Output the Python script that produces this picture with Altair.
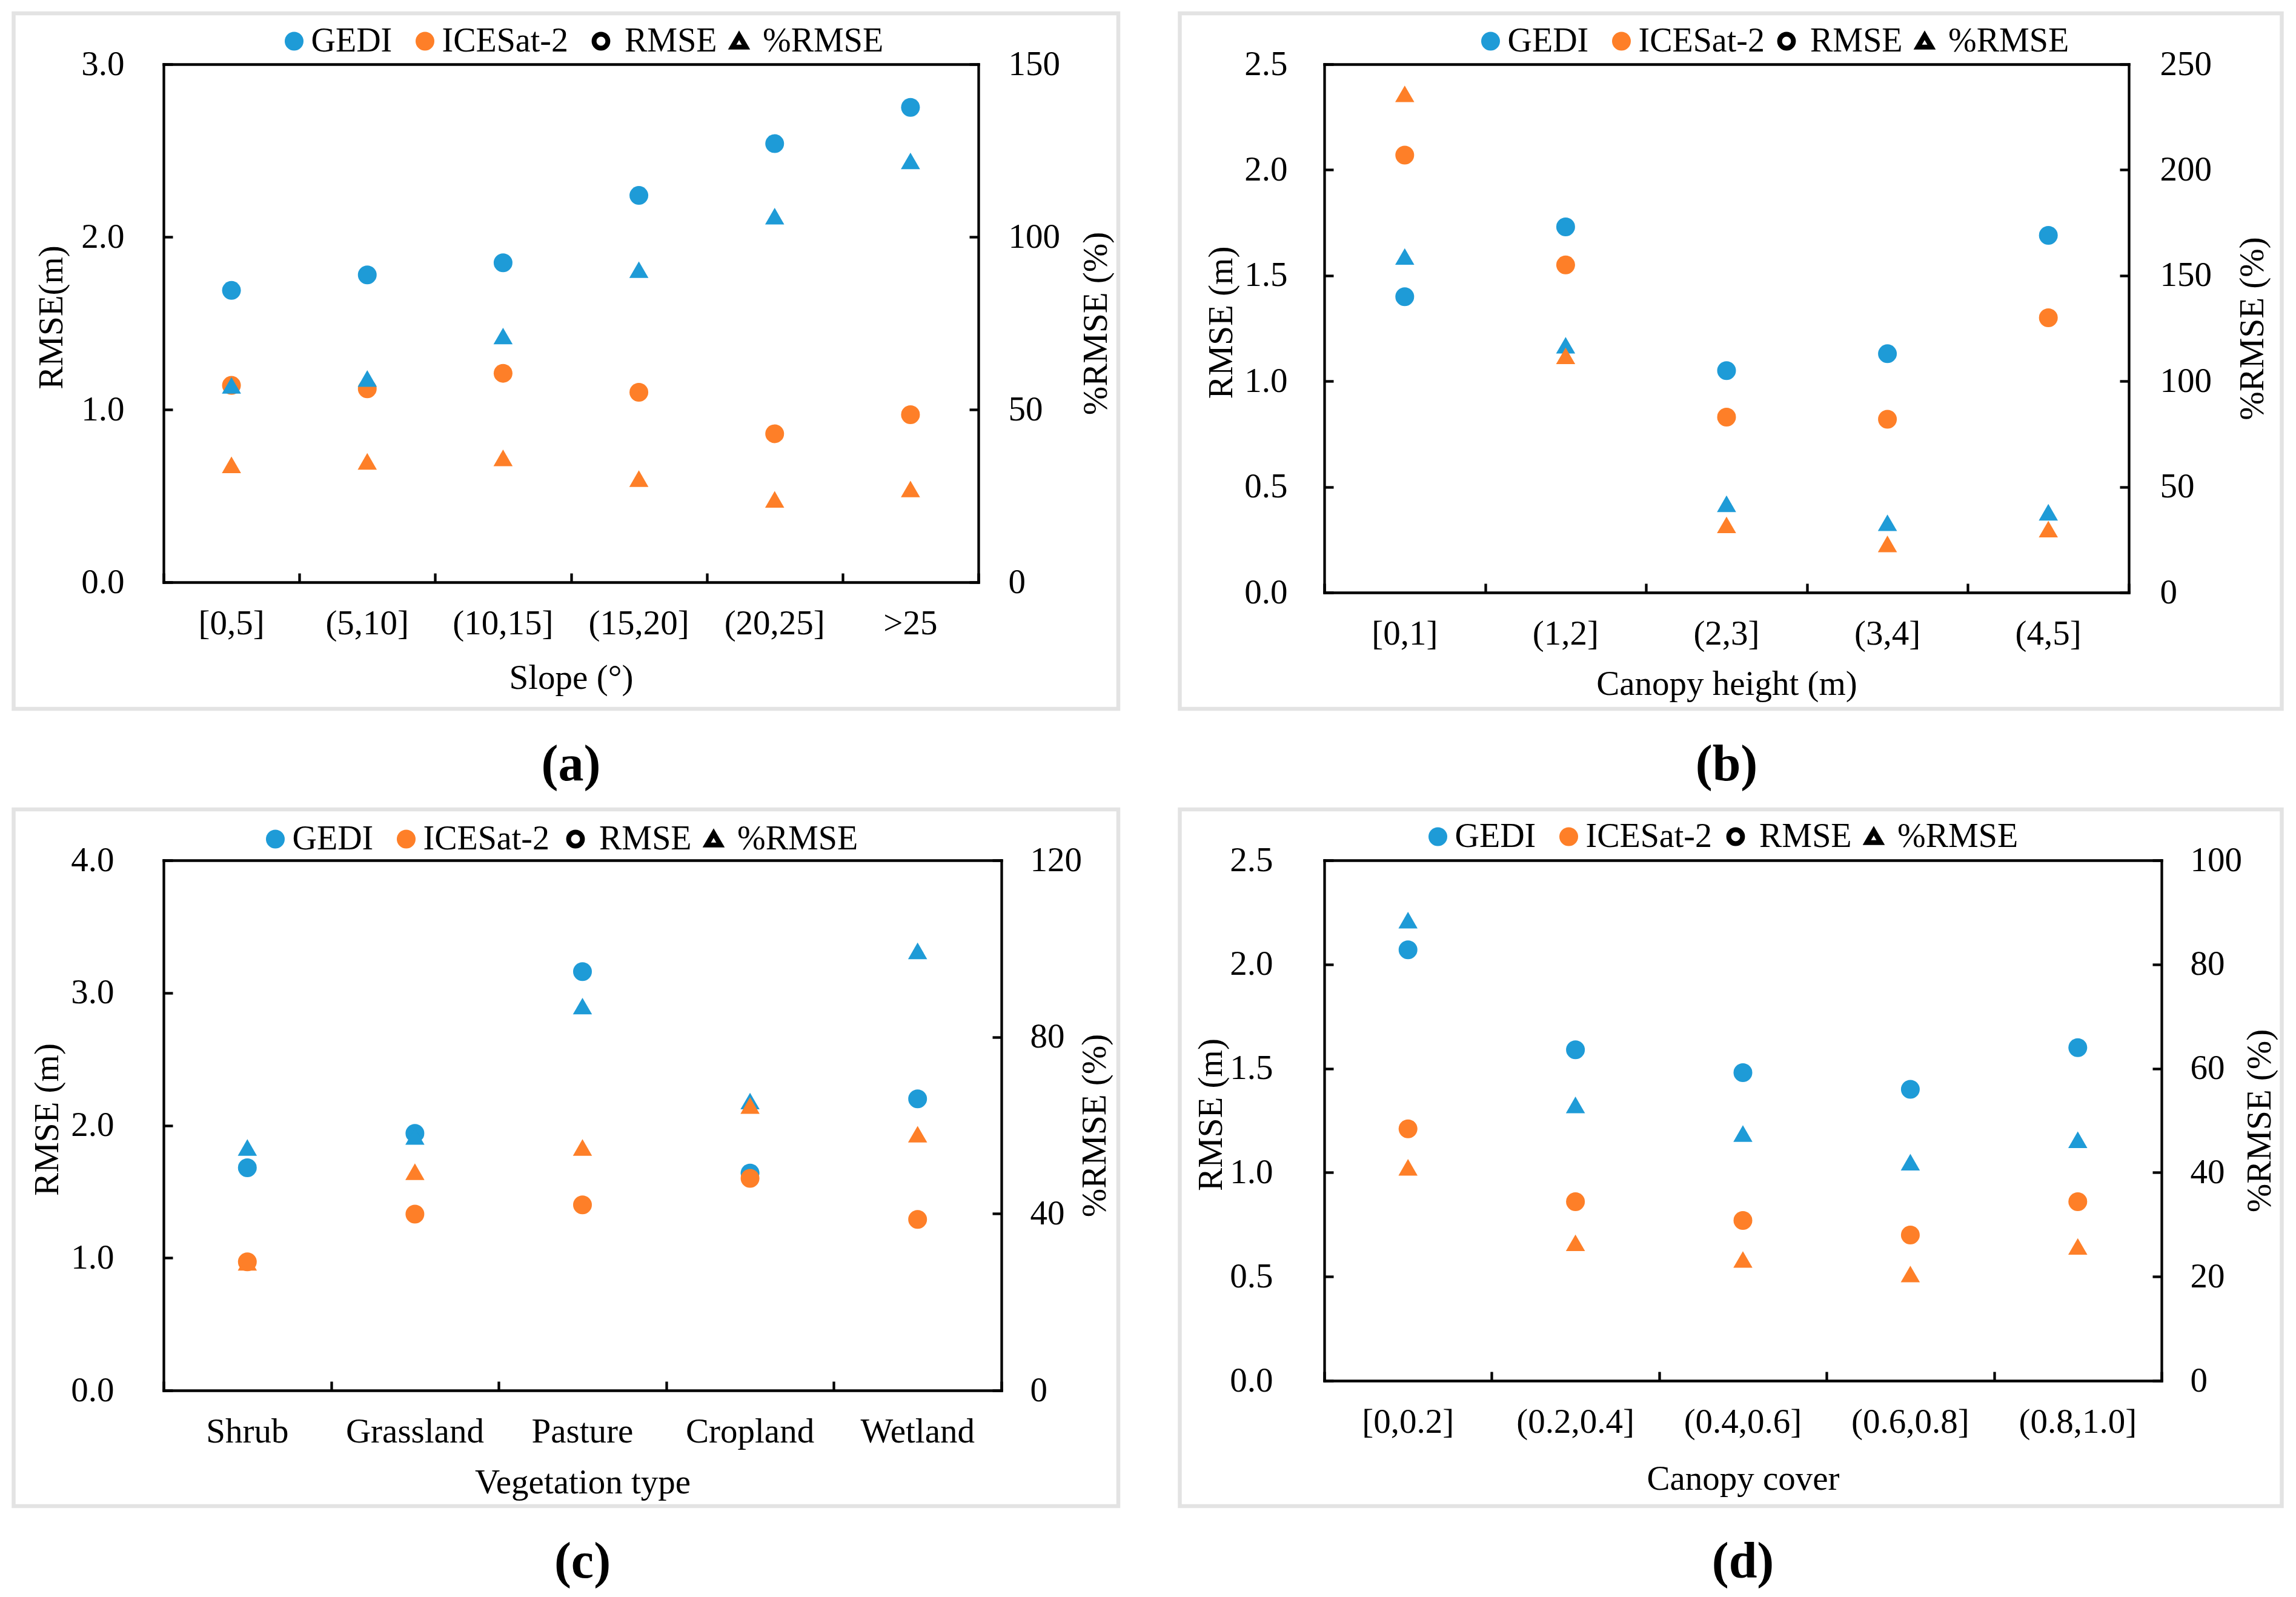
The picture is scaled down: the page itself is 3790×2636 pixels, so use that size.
import altair as alt
import pandas as pd

FONT = "Liberation Serif"
BLUE = "#1E9BD7"
ORANGE = "#FE7F28"
FRAME = "#E3E3E3"
FS = 57
LFS = 56
LW = 4.3

# ---------------- data ----------------
# (a) slope
a_cats = ["[0,5]", "(5,10]", "(10,15]", "(15,20]", "(20,25]", ">25"]
a_gedi_rmse = [1.69, 1.78, 1.85, 2.24, 2.54, 2.75]
a_ice_rmse = [1.14, 1.12, 1.21, 1.10, 0.86, 0.97]
a_gedi_prmse = [57, 59, 71.3, 90.5, 106, 122]
a_ice_prmse = [34, 35, 36, 30, 24, 27]

# (b) canopy height
b_cats = ["[0,1]", "(1,2]", "(2,3]", "(3,4]", "(4,5]"]
b_gedi_rmse = [1.40, 1.73, 1.05, 1.13, 1.69]
b_ice_rmse = [2.07, 1.55, 0.83, 0.82, 1.30]
b_gedi_prmse = [159, 117, 42, 33, 38]
b_ice_prmse = [236, 112, 32, 23, 30]

# (c) vegetation type
c_cats = ["Shrub", "Grassland", "Pasture", "Cropland", "Wetland"]
c_gedi_rmse = [1.68, 1.94, 3.16, 1.64, 2.20]
c_ice_rmse = [0.97, 1.33, 1.40, 1.60, 1.29]
c_gedi_prmse = [55, 57.5, 87, 65.5, 99.5]
c_ice_prmse = [29, 49.5, 55, 64.5, 58]

# (d) canopy cover
d_cats = ["[0,0.2]", "(0.2,0.4]", "(0.4,0.6]", "(0.6,0.8]", "(0.8,1.0]"]
d_gedi_rmse = [2.07, 1.59, 1.48, 1.40, 1.60]
d_ice_rmse = [1.21, 0.86, 0.77, 0.70, 0.86]
d_gedi_prmse = [88.5, 53, 47.5, 42, 46.3]
d_ice_prmse = [41, 26.5, 23.3, 20.5, 25.8]

sensors = ["GEDI", "ICESat-2"]
metrics = ["RMSE", "%RMSE"]


def long_df(cats, gedi, ice, metric):
    rows = []
    for c, v in zip(cats, gedi):
        rows.append({"cat": c, "sensor": "GEDI", "metric": metric, "value": v})
    for c, v in zip(cats, ice):
        rows.append({"cat": c, "sensor": "ICESat-2", "metric": metric, "value": v})
    return pd.DataFrame(rows)


def tick_axis(orient, offset, values=None, band=False):
    kw = dict(orient=orient, offset=offset, labels=False, domain=False, ticks=True,
              tickSize=15, tickWidth=LW, tickColor="black", grid=False, title=None)
    if values is not None:
        kw["values"] = values
    if band:
        kw["tickBand"] = "extent"
    return alt.Axis(**kw)


DOMAIN = dict(domain=True, domainColor="black", domainWidth=LW, domainCap="square")


def panel(cats, g_r, i_r, g_p, i_p, W, H, frame, lmax, lvals, rmax, rvals,
          ltitle, xtitle, caption, ltx, rtx, xty, lpad, rpad, colx, shx, legy):
    df_r = long_df(cats, g_r, i_r, "RMSE")
    df_p = long_df(cats, g_p, i_p, "%RMSE")

    xscale = alt.Scale(type="band", domain=cats, paddingInner=0, paddingOuter=0)
    color_legend = alt.Legend(title=None, orient="none", legendX=colx, legendY=legy,
                              direction="horizontal", symbolType="circle", symbolSize=961,
                              symbolStrokeWidth=0, labelFont=FONT, labelFontSize=LFS,
                              labelColor="black", labelOffset=0, columnPadding=26,
                              padding=0, labelLimit=1000)
    shape_legend = alt.Legend(title=None, orient="none", legendX=shx, legendY=legy,
                              direction="horizontal", symbolSize=520,
                              symbolFillColor="white", symbolStrokeColor="black",
                              symbolStrokeWidth=8, labelFont=FONT, labelFontSize=LFS,
                              labelColor="black", labelOffset=11, columnPadding=8,
                              padding=0, labelLimit=1000)
    color = alt.Color("sensor:N", scale=alt.Scale(domain=sensors, range=[BLUE, ORANGE]),
                      legend=color_legend)
    shape = alt.Shape("metric:N", scale=alt.Scale(domain=metrics, range=["circle", "triangle-up"]),
                      legend=shape_legend)

    bottom_axis = alt.Axis(orient="bottom", title=xtitle, labelFont=FONT, labelFontSize=FS,
                           labelColor="black", labelPadding=40, labelAngle=0, ticks=False,
                           tickSize=0, grid=False, labelLimit=1000,
                           titleFont=FONT, titleFontSize=FS, titleFontWeight="normal",
                           titleColor="black", titleX=W / 2, titleY=xty,
                           titleBaseline="middle", titleAlign="center", **DOMAIN)
    top_axis = alt.Axis(orient="top", labels=False, ticks=False, grid=False, title=None,
                        **DOMAIN)
    left_axis = alt.Axis(orient="left", title=ltitle, values=lvals, format=".1f",
                         labelFont=FONT, labelFontSize=FS, labelColor="black",
                         labelPadding=lpad, ticks=False, tickSize=0, grid=False,
                         titleFont=FONT, titleFontSize=FS, titleFontWeight="normal",
                         titleColor="black", titleAngle=270, titleX=ltx, titleY=H / 2 - 10,
                         titleBaseline="middle", titleAlign="center", **DOMAIN)
    right_axis = alt.Axis(orient="right", title="%RMSE (%)", values=rvals, format="d",
                          labelFont=FONT, labelFontSize=FS, labelColor="black",
                          labelPadding=rpad, ticks=False, tickSize=0, grid=False,
                          titleFont=FONT, titleFontSize=FS, titleFontWeight="normal",
                          titleColor="black", titleAngle=270, titleX=rtx, titleY=H / 2,
                          titleBaseline="middle", titleAlign="center", **DOMAIN)

    fx, fx2, fy, fy2 = frame
    l0 = alt.Chart(pd.DataFrame({"f": [0]})).mark_rect(
        fill="transparent", stroke=FRAME, strokeWidth=6.5
    ).encode(x=alt.value(fx), x2=alt.value(fx2), y=alt.value(fy), y2=alt.value(fy2))

    l1 = alt.Chart(df_r).mark_point(filled=True, size=961, opacity=1).encode(
        x=alt.X("cat:N", scale=xscale, axis=bottom_axis),
        y=alt.Y("value:Q", scale=alt.Scale(domain=[0, lmax]), axis=left_axis),
        color=color, shape=shape)
    l2 = alt.Chart(df_p).mark_point(filled=True, size=1000, opacity=1).encode(
        x=alt.X("cat:N", scale=xscale, axis=top_axis),
        y=alt.Y("value:Q", scale=alt.Scale(domain=[0, rmax]), axis=right_axis),
        color=color, shape=shape)
    l3 = alt.Chart(df_r).mark_point(opacity=0).encode(
        x=alt.X("cat:N", scale=xscale, axis=tick_axis("top", -H, band=True)),
        y=alt.Y("value:Q", scale=alt.Scale(domain=[0, lmax]),
                axis=tick_axis("right", -W, values=lvals)))
    l4 = alt.Chart(df_p).mark_point(opacity=0).encode(
        x=alt.X("cat:N", scale=xscale, axis=None),
        y=alt.Y("value:Q", scale=alt.Scale(domain=[0, rmax]),
                axis=tick_axis("left", -W, values=rvals)))

    return alt.layer(l0, l1, l2, l3, l4).resolve_scale(y="independent").resolve_axis(
        x="independent", y="independent"
    ).properties(
        width=W, height=H,
        title=alt.TitleParams(text=caption, orient="bottom", anchor="middle", fontSize=84,
                              fontWeight="bold", font=FONT, color="black", offset=49,
                              baseline="top"))


pa = panel(a_cats, a_gedi_rmse, a_ice_rmse, a_gedi_prmse, a_ice_prmse,
           1345, 855, (-247.5, 1576, -84, 1064), 3, [0, 1, 2, 3], 150, [0, 50, 100, 150],
           "RMSE(m)", "Slope (°)", "(a)", -185, 194, 158, 65, 49, 187.5, 694, -66)
pb = panel(b_cats, b_gedi_rmse, b_ice_rmse, b_gedi_prmse, b_ice_prmse,
           1328, 872, (-238.5, 1580.5, -84, 1064), 2.5, [0, 0.5, 1, 1.5, 2, 2.5],
           250, [0, 50, 100, 150, 200, 250],
           "RMSE (m)", "Canopy height (m)", "(b)", -170, 204, 151, 61, 51, 246.5, 735, -66)
pc = panel(c_cats, c_gedi_rmse, c_ice_rmse, c_gedi_prmse, c_ice_prmse,
           1383, 875, (-247.5, 1576, -84, 1066), 4, [0, 1, 2, 3, 4], 120, [0, 40, 80, 120],
           "RMSE (m)", "Vegetation type", "(c)", -192, 154, 152, 82, 47, 156.5, 652, -63)
pd_ = panel(d_cats, d_gedi_rmse, d_ice_rmse, d_gedi_prmse, d_ice_prmse,
            1382, 859, (-238.5, 1580.5, -84, 1066), 2.5, [0, 0.5, 1, 1.5, 2, 2.5],
            100, [0, 20, 40, 60, 80, 100],
            "RMSE (m)", "Canopy cover", "(d)", -187, 162, 162, 85, 47, 159.5, 651, -67)

chart = alt.concat(pa, pb, pc, pd_, columns=2,
                   spacing={"row": 26, "column": 93}).resolve_scale(
    color="independent", shape="independent"
).properties(
    padding={"left": 10, "top": 10, "right": 10, "bottom": 10},
    background="white",
).configure_view(stroke="black", strokeWidth=LW).configure(font=FONT)

chart.save("out.html", embed_options={"renderer": "svg", "actions": False})
